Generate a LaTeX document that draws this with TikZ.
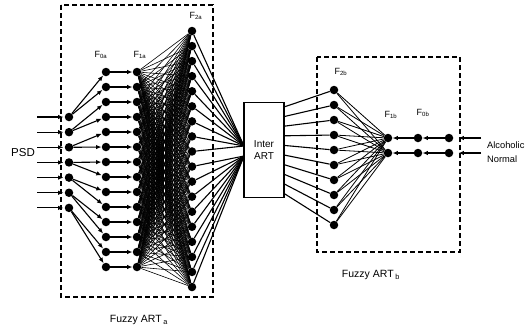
\documentclass[tikz,border=0pt]{standalone}
\usepackage{fontspec}
\setmainfont{Liberation Sans}
\usetikzlibrary{
  arrows.meta,
  positioning
}

\begin{document}
\begin{tikzpicture}[
  x=1pt, y=-1pt,
  unit/.style={circle, fill=black, inner sep=0pt, minimum size=8.5pt},
  link/.style={line width=1.1pt},
  mesh/.style={line width=0.6pt},
  feed/.style={line width=1.1pt, -{Latex[length=5.5pt,width=4.5pt]}},
  artbox/.style={dash pattern=on 5pt off 3pt, line width=1.1pt},
  layer/.style={font=\fontsize{9}{10}\selectfont},
  tag/.style={font=\fontsize{10.5}{11}\selectfont}
]
\useasboundingbox (0,0) rectangle (531,333);

% Fuzzy ART a
\draw[artbox] (61,5) rectangle (213,297);
\node[tag] (arta) at (139,320) {Fuzzy ART\,\textsubscript{a}};
\node[font=\fontsize{11.5}{12}\selectfont] (psd) at (23,153) {PSD};
\node[layer] (lf0a) at (101,55) {F\textsubscript{0a}};
\node[layer] (lf1a) at (140,55) {F\textsubscript{1a}};
\node[layer] (lf2a) at (196,16) {F\textsubscript{2a}};

\foreach \i in {0,...,6} {
  \node[unit] (in\i) at (69,{117+15.15*\i}) {};
  \coordinate (src\i) at (37,{117+15.15*\i});
  \draw[feed, shorten >=1pt] (src\i) -- (in\i);
}
\foreach \j in {0,...,13} {
  \node[unit] (f0a\j) at (106,{72+15*\j}) {};
  \node[unit] (f1a\j) at (137,{72+15*\j}) {};
}
\foreach \k in {0,...,17} {
  \node[unit] (f2a\k) at (192,{31+15.06*\k}) {};
}

\foreach \j in {0,...,13} {
  \pgfmathtruncatemacro\i{\j/2}
  \draw[feed] (in\i) -- (f0a\j);
  \draw[feed] (f0a\j) -- (f1a\j);
}
\foreach \j in {0,...,13} {
  \foreach \k in {0,...,17} {
    \draw[mesh] (f1a\j) -- (f2a\k);
  }
}

% Inter ART
\node[draw, line width=1.1pt, minimum width=40pt, minimum height=95pt,
      align=center, font=\fontsize{10}{12}\selectfont] (inter) at (264,150) {Inter\\ART};
\coordinate (joinup) at (244,146);
\coordinate (joinlow) at (244,156);
\foreach \k in {0,...,8} {
  \draw[link] (f2a\k) -- (joinup);
}
\foreach \k in {9,...,17} {
  \draw[link] (f2a\k) -- (joinlow);
}

% Fuzzy ART b
\draw[artbox] (317,57) rectangle (460,252);
\node[tag] (artb) at (371,275) {Fuzzy ART\,\textsubscript{b}};
\node[layer] (lf2b) at (341,72) {F\textsubscript{2b}};
\node[layer] (lf1b) at (391,115) {F\textsubscript{1b}};
\node[layer] (lf0b) at (423,113) {F\textsubscript{0b}};

\foreach \m in {0,...,9} {
  \node[unit] (f2b\m) at (334,{90+15*\m}) {};
  \coordinate (tap\m) at (284,{107+9.6*\m});
}
\foreach \n in {0,1} {
  \node[unit] (f1b\n) at (388,{138+15*\n}) {};
  \node[unit] (f0b\n) at (418,{138+15*\n}) {};
  \node[unit] (inb\n) at (449,{138+15*\n}) {};
  \coordinate (srcb\n) at (481,{138+15*\n});
}
\foreach \m in {0,...,9} {
  \draw[link] (tap\m) -- (f2b\m);
  \draw[link, line width=0.8pt] (f2b\m) -- (f1b0);
  \draw[link, line width=0.8pt] (f2b\m) -- (f1b1);
}
\foreach \n in {0,1} {
  \draw[feed] (f0b\n) -- (f1b\n);
  \draw[feed] (inb\n) -- (f0b\n);
  \draw[feed, shorten >=5pt] (srcb\n) -- (inb\n);
}
\node[anchor=west, inner sep=1pt, font=\fontsize{9.3}{10}\selectfont] (alc) at (486,145) {Alcoholic};
\node[anchor=west, inner sep=1pt, font=\fontsize{9.3}{10}\selectfont] (nor) at (486,159) {Normal};
\end{tikzpicture}
\end{document}
